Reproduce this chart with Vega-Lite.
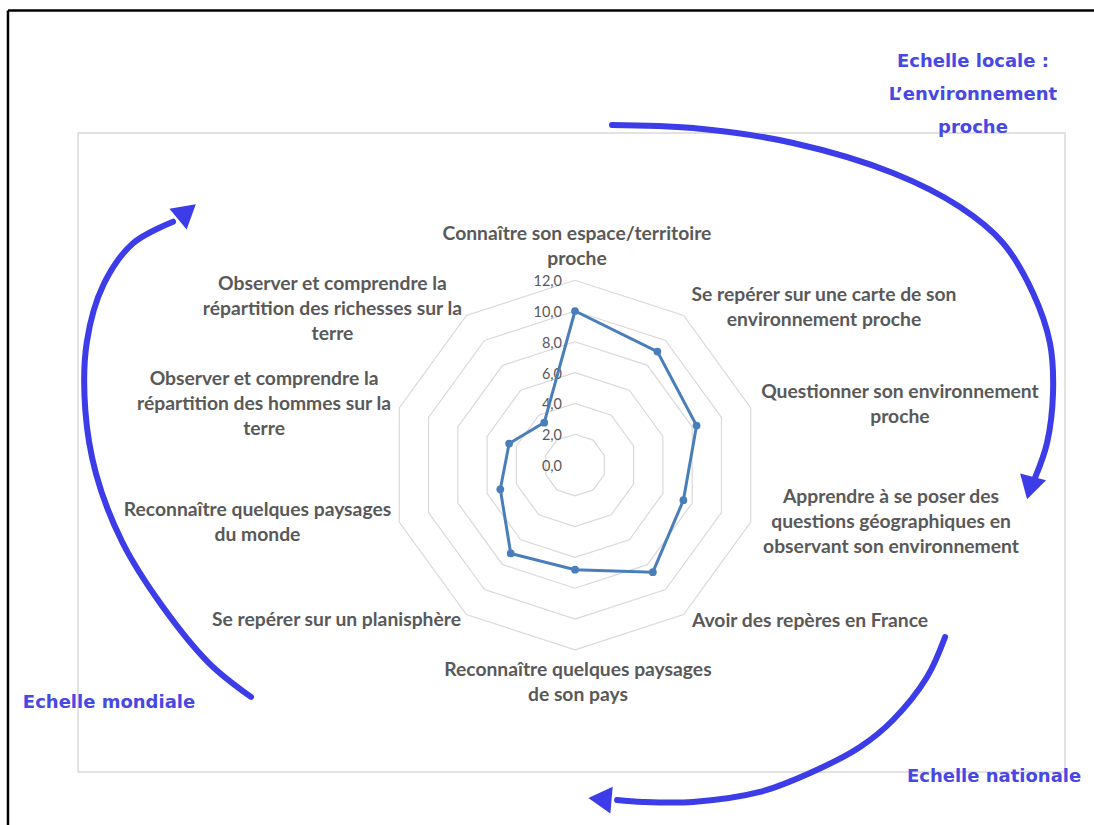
{
  "$schema": "https://vega.github.io/schema/vega-lite/v6.json",
  "width": 1094,
  "height": 825,
  "autosize": {"type": "none"},
  "padding": 0,
  "background": "white",
  "config": {"view": {"stroke": null}},
  "datasets": {
    "valeurs": [
      {"k": 0, "valeur": 10.0},
      {"k": 1, "valeur": 9.1},
      {"k": 2, "valeur": 8.3},
      {"k": 3, "valeur": 7.4},
      {"k": 4, "valeur": 8.6},
      {"k": 5, "valeur": 6.8},
      {"k": 6, "valeur": 7.1},
      {"k": 7, "valeur": 5.1},
      {"k": 8, "valeur": 4.5},
      {"k": 9, "valeur": 3.4},
      {"k": 10, "valeur": 10.0}
    ],
    "anneaux": [
      {"niveau": 2, "k": [0,1,2,3,4,5,6,7,8,9,10]},
      {"niveau": 4, "k": [0,1,2,3,4,5,6,7,8,9,10]},
      {"niveau": 6, "k": [0,1,2,3,4,5,6,7,8,9,10]},
      {"niveau": 8, "k": [0,1,2,3,4,5,6,7,8,9,10]},
      {"niveau": 10, "k": [0,1,2,3,4,5,6,7,8,9,10]},
      {"niveau": 12, "k": [0,1,2,3,4,5,6,7,8,9,10]}
    ],
    "graduations": [
      {"niveau": 0, "label": "0,0"},
      {"niveau": 2, "label": "2,0"},
      {"niveau": 4, "label": "4,0"},
      {"niveau": 6, "label": "6,0"},
      {"niveau": 8, "label": "8,0"},
      {"niveau": 10, "label": "10,0"},
      {"niveau": 12, "label": "12,0"}
    ],
    "etiquettes": [
      {"nom": "Connaître son espace/territoire\nproche", "x": 0.13, "y": 15.0},
      {"nom": "Se repérer sur une carte de son\nenvironnement proche", "x": 16.17, "y": 11.04},
      {"nom": "Questionner son environnement\nproche", "x": 21.1, "y": 4.76},
      {"nom": "Apprendre à se poser des\nquestions géographiques en\nobservant son environnement", "x": 20.52, "y": -2.11},
      {"nom": "Avoir des repères en France", "x": 15.26, "y": -10.1},
      {"nom": "Reconnaître quelques paysages\nde son pays", "x": 0.19, "y": -13.31},
      {"nom": "Se repérer sur un planisphère", "x": -15.49, "y": -10.06},
      {"nom": "Reconnaître quelques paysages\ndu monde", "x": -20.62, "y": -2.92},
      {"nom": "Observer et comprendre la\nrépartition des hommes sur la\nterre", "x": -20.19, "y": 5.58},
      {"nom": "Observer et comprendre la\nrépartition des richesses sur la\nterre", "x": -15.75, "y": 11.75}
    ],
    "echelles": [
      {"nom": "Echelle locale :\nL’environnement\nproche", "x": 25.84, "y": 26.17},
      {"nom": "Echelle mondiale", "x": -30.26, "y": -15.45},
      {"nom": "Echelle nationale", "x": 27.21, "y": -20.26}
    ],
    "fleches": [
      {"fleche": "locale", "i": 0, "x": 2.40, "y": 22.08},
      {"fleche": "locale", "i": 1, "x": 7.66, "y": 21.88},
      {"fleche": "locale", "i": 2, "x": 14.16, "y": 20.91},
      {"fleche": "locale", "i": 3, "x": 20.65, "y": 18.96},
      {"fleche": "locale", "i": 4, "x": 25.0, "y": 16.75},
      {"fleche": "locale", "i": 5, "x": 27.79, "y": 14.42},
      {"fleche": "locale", "i": 6, "x": 29.74, "y": 11.17},
      {"fleche": "locale", "i": 7, "x": 30.84, "y": 7.92},
      {"fleche": "locale", "i": 8, "x": 31.04, "y": 4.68},
      {"fleche": "locale", "i": 9, "x": 30.65, "y": 1.43},
      {"fleche": "locale", "i": 10, "x": 29.87, "y": -0.84},
      {"fleche": "nationale", "i": 0, "x": 24.03, "y": -11.17},
      {"fleche": "nationale", "i": 1, "x": 22.86, "y": -13.77},
      {"fleche": "nationale", "i": 2, "x": 20.65, "y": -16.56},
      {"fleche": "nationale", "i": 3, "x": 18.51, "y": -18.31},
      {"fleche": "nationale", "i": 4, "x": 15.26, "y": -20.0},
      {"fleche": "nationale", "i": 5, "x": 12.01, "y": -21.23},
      {"fleche": "nationale", "i": 6, "x": 7.66, "y": -21.88},
      {"fleche": "nationale", "i": 7, "x": 4.42, "y": -21.88},
      {"fleche": "nationale", "i": 8, "x": 2.73, "y": -21.75},
      {"fleche": "mondiale", "i": 0, "x": -21.04, "y": -15.06},
      {"fleche": "mondiale", "i": 1, "x": -23.77, "y": -12.86},
      {"fleche": "mondiale", "i": 2, "x": -26.85, "y": -9.09},
      {"fleche": "mondiale", "i": 3, "x": -29.4, "y": -5.0},
      {"fleche": "mondiale", "i": 4, "x": -31.1, "y": -0.58},
      {"fleche": "mondiale", "i": 5, "x": -31.8, "y": 3.57},
      {"fleche": "mondiale", "i": 6, "x": -31.7, "y": 7.99},
      {"fleche": "mondiale", "i": 7, "x": -30.6, "y": 11.75},
      {"fleche": "mondiale", "i": 8, "x": -28.7, "y": 14.4},
      {"fleche": "mondiale", "i": 9, "x": -26.1, "y": 15.8}
    ],
    "pointes": [
      {"fleche": "locale", "x": 29.55, "y": -1.5, "cap": 195},
      {"fleche": "nationale", "x": 1.62, "y": -21.69, "cap": 275},
      {"fleche": "mondiale", "x": -25.2, "y": 16.45, "cap": 50}
    ],
    "cadre": [
      {"x": -32.27, "x2": 31.82, "y": 21.56, "y2": -19.94}
    ],
    "bordure": [
      {"x": -36.82, "x2": 34.5, "y": 29.51, "y2": 29.51},
      {"x": -36.82, "x2": -36.82, "y": 29.51, "y2": -24.5}
    ]
  },
  "encoding": {
    "x": {"field": "x", "type": "quantitative", "scale": {"domain": [-37.338, 33.701], "nice": false, "zero": false}, "axis": null},
    "y": {"field": "y", "type": "quantitative", "scale": {"domain": [-23.377, 30.195], "nice": false, "zero": false}, "axis": null}
  },
  "layer": [
    {
      "data": {"name": "cadre"},
      "mark": {"type": "rect", "fill": null, "stroke": "#d9d9d9", "strokeWidth": 1.5},
      "encoding": {"x2": {"field": "x2"}, "y2": {"field": "y2"}}
    },
    {
      "data": {"name": "bordure"},
      "mark": {"type": "rule", "color": "#000000", "strokeWidth": 2.5, "clip": false},
      "encoding": {"x2": {"field": "x2"}, "y2": {"field": "y2"}}
    },
    {
      "data": {"name": "anneaux"},
      "transform": [
        {"flatten": ["k"]},
        {"calculate": "datum.niveau * sin(datum.k * PI / 5)", "as": "x"},
        {"calculate": "datum.niveau * cos(datum.k * PI / 5)", "as": "y"}
      ],
      "mark": {"type": "line", "color": "#d9d9d9", "strokeWidth": 1.2},
      "encoding": {"detail": {"field": "niveau"}, "order": {"field": "k", "type": "quantitative"}}
    },
    {
      "data": {"name": "graduations"},
      "transform": [
        {"calculate": "0", "as": "x"},
        {"calculate": "datum.niveau", "as": "y"}
      ],
      "mark": {"type": "text", "align": "right", "baseline": "middle", "dx": -13, "dy": 2, "font": "Lato", "fontSize": 14.5, "color": "#595959"},
      "encoding": {"text": {"field": "label"}}
    },
    {
      "data": {"name": "valeurs"},
      "transform": [
        {"calculate": "datum.valeur * sin(datum.k * PI / 5)", "as": "x"},
        {"calculate": "datum.valeur * cos(datum.k * PI / 5)", "as": "y"}
      ],
      "mark": {"type": "line", "color": "#4A7EBB", "strokeWidth": 3},
      "encoding": {"order": {"field": "k", "type": "quantitative"}}
    },
    {
      "data": {"name": "valeurs"},
      "transform": [
        {"filter": "datum.k < 10"},
        {"calculate": "datum.valeur * sin(datum.k * PI / 5)", "as": "x"},
        {"calculate": "datum.valeur * cos(datum.k * PI / 5)", "as": "y"}
      ],
      "mark": {"type": "point", "filled": true, "opacity": 1, "color": "#4A7EBB", "size": 60},
      "encoding": {}
    },
    {
      "data": {"name": "etiquettes"},
      "mark": {"type": "text", "align": "center", "baseline": "middle", "lineBreak": "\n", "lineHeight": 25, "font": "Lato", "fontWeight": "bold", "fontSize": 19.3, "color": "#595959"},
      "encoding": {"text": {"field": "nom"}}
    },
    {
      "data": {"name": "fleches"},
      "mark": {"type": "line", "color": "#3C3CE8", "strokeWidth": 6, "interpolate": "catmull-rom", "strokeCap": "round"},
      "encoding": {"detail": {"field": "fleche"}, "order": {"field": "i", "type": "quantitative"}}
    },
    {
      "data": {"name": "pointes"},
      "mark": {"type": "point", "shape": "triangle-up", "filled": true, "opacity": 1, "color": "#3C3CE8", "size": 720},
      "encoding": {"angle": {"field": "cap", "type": "quantitative", "scale": null}}
    },
    {
      "data": {"name": "echelles"},
      "mark": {"type": "text", "align": "center", "baseline": "middle", "lineBreak": "\n", "lineHeight": 33, "font": "Comic Sans MS, DejaVu Sans", "fontWeight": "bold", "fontSize": 18, "color": "#4848E4"},
      "encoding": {"text": {"field": "nom"}}
    }
  ]
}
